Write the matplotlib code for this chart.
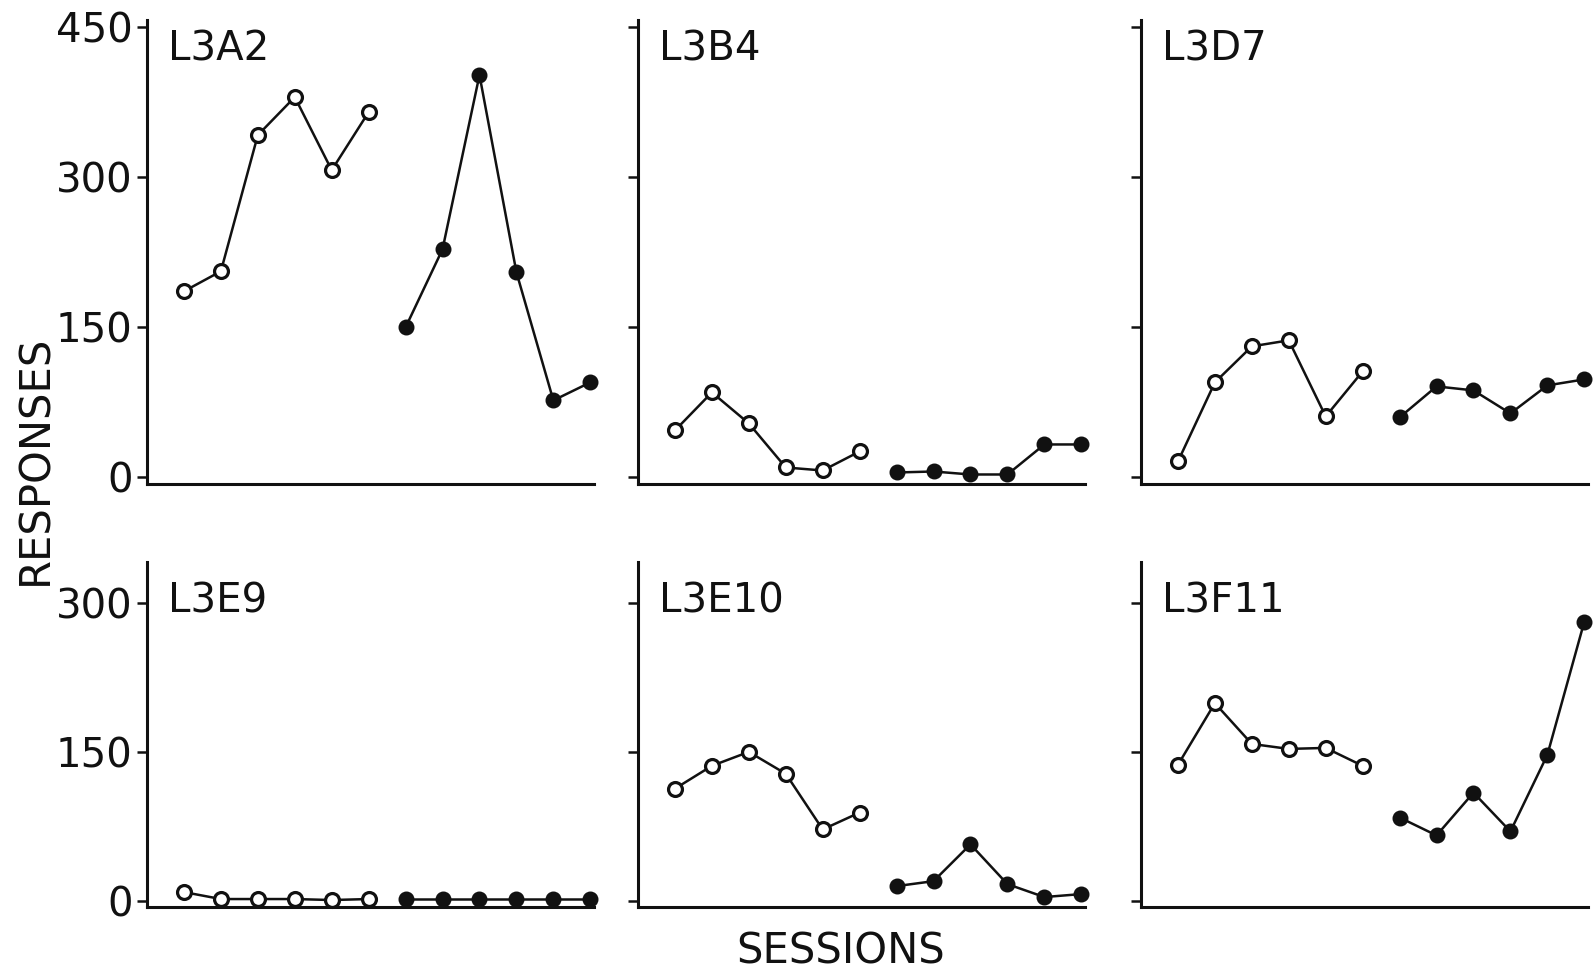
import matplotlib
matplotlib.use("Agg")
import matplotlib.pyplot as plt

plt.rcParams['font.family'] = ['DejaVu Sans']

# Subjects, one panel each
subjects = ["L3A2", "L3B4", "L3D7", "L3E9", "L3E10", "L3F11"]

# Session numbers: first six sessions (open circles), last six (filled circles)
sessions_first = [1, 2, 3, 4, 5, 6]
sessions_second = [7, 8, 9, 10, 11, 12]

# Responses per session, first phase (open circles)
first_L3A2 = [186, 206, 342, 380, 307, 365]
first_L3B4 = [47, 85, 54, 10, 7, 26]
first_L3D7 = [16, 95, 131, 137, 61, 106]
first_L3E9 = [9, 2, 2, 2, 1, 2]
first_L3E10 = [113, 136, 150, 128, 72, 89]
first_L3F11 = [137, 199, 158, 153, 154, 136]

# Responses per session, second phase (filled circles)
second_L3A2 = [150, 228, 402, 205, 77, 95]
second_L3B4 = [5, 6, 3, 3, 33, 33]
second_L3D7 = [60, 91, 87, 64, 92, 98]
second_L3E9 = [2, 2, 2, 2, 2, 2]
second_L3E10 = [15, 20, 57, 17, 4, 7]
second_L3F11 = [84, 66, 109, 70, 147, 281]

first_phase = [first_L3A2, first_L3B4, first_L3D7, first_L3E9, first_L3E10, first_L3F11]
second_phase = [second_L3A2, second_L3B4, second_L3D7, second_L3E9, second_L3E10, second_L3F11]

top_ticks = [0, 150, 300, 450]
bottom_ticks = [0, 150, 300]

W, H = 1593, 977
fig = plt.figure(figsize=(W / 100, H / 100), dpi=100)
fig.patch.set_facecolor("white")

ink = "#111111"
col_left = [147, 638, 1141]
ax_w = 447
# (top px, bottom px, y-limits, ticks, title baseline in axes fraction)
rows = [(20, 484, (-6.5, 457), top_ticks, 0.912),
        (562, 907, (-6, 341), bottom_ticks, 0.855)]

for i, name in enumerate(subjects):
    r, c = divmod(i, 3)
    top_px, bot_px, ylim, ticks, title_y = rows[r]
    ax = fig.add_axes([col_left[c] / W, (H - bot_px) / H, ax_w / W, (bot_px - top_px) / H])
    ax.plot(sessions_first, first_phase[i], color=ink, lw=1.8, marker='o', ms=10,
            mfc='white', mec=ink, mew=2.3, zorder=3, clip_on=False)
    ax.plot(sessions_second, second_phase[i], color=ink, lw=1.8, marker='o', ms=10,
            mfc=ink, mec=ink, mew=1.5, zorder=3, clip_on=False)
    ax.set_xlim(0, 12.1)
    ax.set_ylim(*ylim)
    ax.set_yticks(ticks)
    ax.set_xticks([])
    for side in ("top", "right"):
        ax.spines[side].set_visible(False)
    for side in ("left", "bottom"):
        ax.spines[side].set_linewidth(2.2)
        ax.spines[side].set_color(ink)
    ax.tick_params(axis='y', direction='out', length=7.5, width=1.8, color=ink,
                   labelsize=29, pad=3, labelcolor=ink)
    if c != 0:
        ax.set_yticklabels([])
    ax.text(0.048, title_y, name, transform=ax.transAxes,
            fontsize=29, color=ink, va='baseline', ha='left')

fig.text(35 / W, 1 - 460 / H, "RESPONSES", rotation=90, fontsize=30,
         color=ink, ha='center', va='center')
fig.text(841 / W, 1 - 952 / H, "SESSIONS", fontsize=30,
         color=ink, ha='center', va='center')

fig.savefig("out.png", dpi=100, facecolor="white")
